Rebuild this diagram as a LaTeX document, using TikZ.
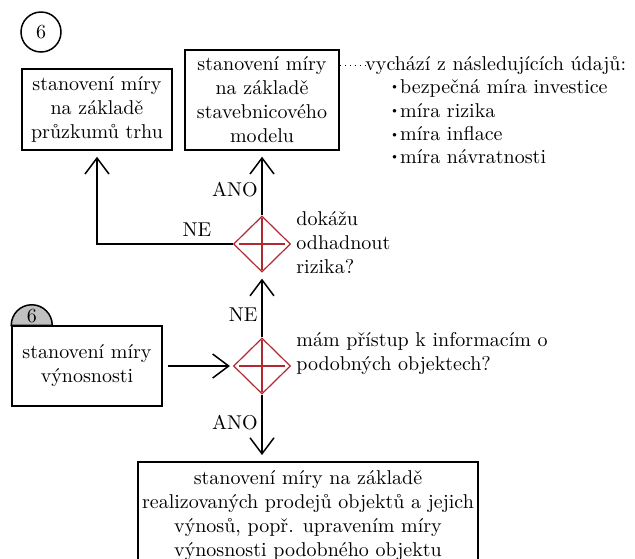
\documentclass[tikz,border=0pt]{standalone}
\usetikzlibrary{shapes.geometric,arrows.meta,calc}
\definecolor{dred}{RGB}{178,40,48}
\definecolor{tabgray}{RGB}{192,192,192}
\begin{document}
\begin{tikzpicture}[x=0.5pt,y=-0.5pt,
  box/.style={draw,line width=0.75pt,align=center,inner sep=0pt},
  dec/.style={draw=dred,diamond,line width=0.6pt,minimum width=28.5pt,minimum height=28pt,inner sep=0pt},
  arr/.style={line width=0.75pt,shorten >=3pt,-{Straight Barb[length=8pt,width=12pt,line width=0.75pt]}},
  lbl/.style={inner sep=1pt},
  note/.style={align=left,inner sep=0pt,anchor=west}]
\useasboundingbox (0,0) rectangle (635,558);
% numbered circle
\node[draw,circle,line width=0.75pt,minimum size=20pt,inner sep=0pt] (c6) at (41,32) {6};
% boxes
\node[box,minimum width=75pt,minimum height=40.5pt] (b1) at (97,109.5) {stanovení míry\\na základě\\průzkumů trhu};
\node[box,minimum width=77pt,minimum height=50pt] (b2) at (262,100) {stanovení míry\\na základě\\stavebnicového\\modelu};
\node[box,minimum width=75pt,minimum height=40pt] (b3) at (87,366) {stanovení míry\\výnosnosti};
\node[box,minimum width=170pt,minimum height=54pt,anchor=north] (b4) at (308,461) {stanovení míry na základě\\realizovaných prodejů objektů a jejich\\výnosů, popř. upravením míry\\výnosnosti podobného objektu};
% tab on box 3
\draw[fill=tabgray,line width=0.75pt] (b3.north west) arc[start angle=180,end angle=0,radius=10.25pt] -- cycle;
\node[inner sep=0pt] (t6) at ($(b3.north west)+(20.5,-9)$) {6};
% decisions
\node[dec] (d1) at (262,244) {};
\node[dec] (d2) at (262,366) {};
\foreach \d in {d1,d2}{
  \draw[dred,line width=0.6pt] ($(\d.west)!0.1!(\d.east)$) -- ($(\d.west)!0.9!(\d.east)$);
  \draw[dred,line width=0.6pt] ($(\d.north)!0.05!(\d.south)$) -- ($(\d.north)!0.95!(\d.south)$);
}
% question texts
\node[note] (q1) at (296,243) {dokážu\\odhadnout\\rizika?};
\node[note] (q2) at (296,353.5) {mám přístup k informacím o\\podobných objektech?};
% notes
\node[note] (v) at (365,65) {vychází z následujících údajů:};
\foreach \t [count=\i from 0] in {bezpečná míra investice,míra rizika,míra inflace,míra návratnosti}{
  \node[note] (it\i) at (392,88+23*\i) {\raisebox{0.45ex}{\scalebox{0.45}{$\bullet$}}\,\t};
}
\draw[dotted,line width=0.5pt] (b2.east |- v.west) -- (v.west);
% connectors
\draw[arr] (d1.north) -- (b2.south);
\draw[arr] (d1.west) -- (b1.south |- d1.west) -- (b1.south);
\draw[arr] (d2.north) -- (d1.south);
\draw[arr,shorten >=1.5pt] ([xshift=2.5pt]b3.east) -- (d2.west);
\draw[arr] (d2.south) -- (d2.south |- b4.north);
% labels
\node[lbl,anchor=east] (l1) at (260,190) {ANO};
\node[lbl] (l2) at (197,230) {NE};
\node[lbl,anchor=east] (l3) at (260,315) {NE};
\node[lbl,anchor=east] (l4) at (260,423) {ANO};
\end{tikzpicture}
\end{document}
